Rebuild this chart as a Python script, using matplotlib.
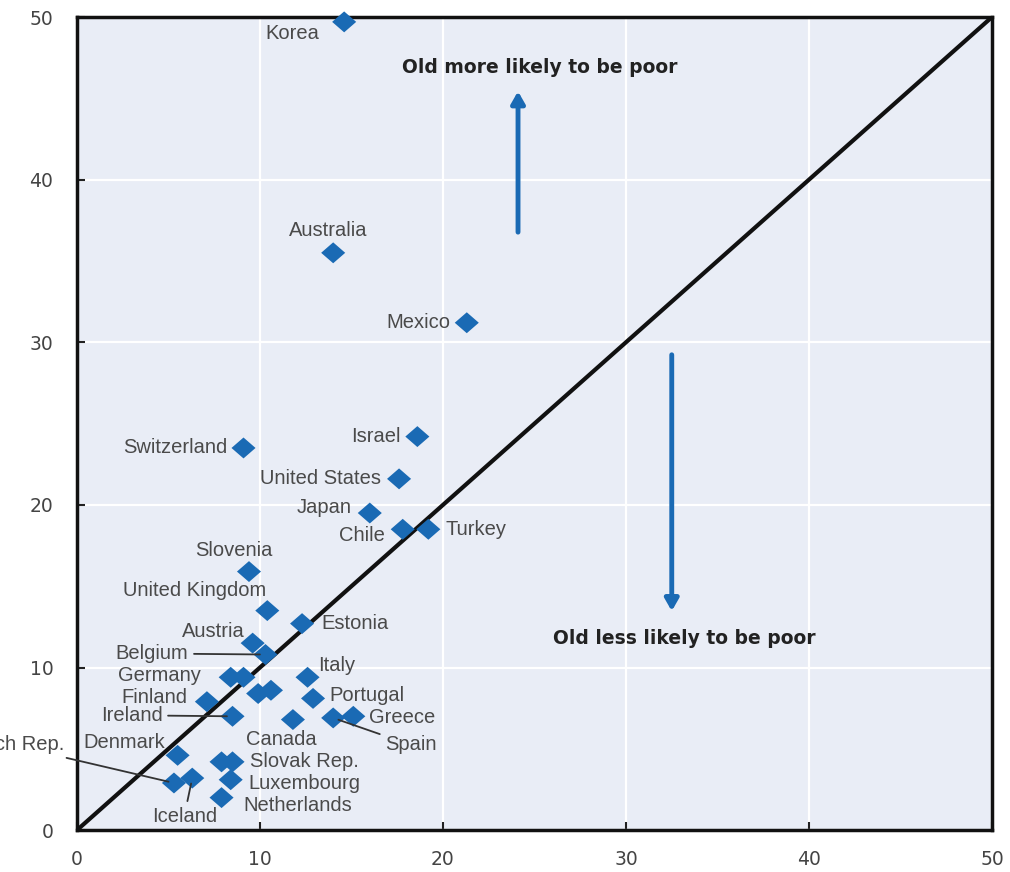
import numpy as np
import matplotlib.pyplot as plt
from matplotlib.path import Path

# income poverty rates: whole population (x) vs over-65s (y), %
countries = ['Korea', 'Australia', 'Mexico', 'Israel', 'Switzerland', 'United States',
             'Japan', 'Chile', 'Turkey', 'Slovenia', 'United Kingdom', 'Estonia',
             'Austria', 'Belgium', 'Germany', 'Italy', 'Finland', 'Portugal',
             'Ireland', 'Canada', 'Greece', 'Spain', 'Denmark', 'Czech Rep.',
             'Iceland', 'Slovak Rep.', 'Luxembourg', 'Netherlands']
pop_rate = [14.6, 14.0, 21.3, 18.6, 9.1, 17.6,
            16.0, 17.8, 19.2, 9.4, 10.4, 12.3,
            9.6, 10.3, 8.4, 12.6, 7.1, 12.9,
            8.5, 11.8, 15.1, 14.0, 5.5, 5.3,
            6.3, 8.5, 8.4, 7.9]
old_rate = [49.7, 35.5, 31.2, 24.2, 23.5, 21.6,
            19.5, 18.5, 18.5, 15.9, 13.5, 12.7,
            11.5, 10.8, 9.4, 9.4, 7.9, 8.1,
            7.0, 6.8, 7.0, 6.9, 4.6, 2.9,
            3.2, 4.2, 3.1, 2.0]
# points drawn without a label
other_pop = [9.1, 9.9, 10.6, 7.9]
other_old = [9.4, 8.4, 8.6, 4.2]

# label placement: offset in pixels, alignment, leader line
label_pos = {
    'Korea': (-25, -12, 'right', False),
    'Australia': (-5, 22, 'center', False),
    'Mexico': (-16, 0, 'right', False),
    'Israel': (-17, 0, 'right', False),
    'Switzerland': (-16, 0, 'right', False),
    'United States': (-18, 0, 'right', False),
    'Japan': (-18, 6, 'right', False),
    'Chile': (-18, -6, 'right', False),
    'Turkey': (17, 0, 'left', False),
    'Slovenia': (-15, 21, 'center', False),
    'United Kingdom': (-73, 20, 'center', False),
    'Estonia': (19, 0, 'left', False),
    'Austria': (-8, 12, 'right', False),
    'Belgium': (-77, 1, 'right', True),
    'Germany': (-30, 2, 'right', False),
    'Italy': (11, 12, 'left', False),
    'Finland': (-20, 4, 'right', False),
    'Portugal': (16, 3, 'left', False),
    'Ireland': (-70, 1, 'right', True),
    'Canada': (-12, -20, 'center', False),
    'Greece': (16, -1, 'left', False),
    'Spain': (52, -27, 'left', True),
    'Denmark': (-12, 13, 'right', False),
    'Czech Rep.': (-110, 38, 'right', True),
    'Iceland': (-8, -38, 'center', True),
    'Slovak Rep.': (17, 0, 'left', False),
    'Luxembourg': (18, -4, 'left', False),
    'Netherlands': (22, -8, 'left', False),
}

blue = '#1a6ab4'
diamond = Path([(-1.15, 0), (0, 1), (1.15, 0), (0, -1), (-1.15, 0)],
               [Path.MOVETO, Path.LINETO, Path.LINETO, Path.LINETO, Path.CLOSEPOLY])

fig = plt.figure(figsize=(10.1, 8.72), dpi=100)
ax = fig.add_axes([0.0762, 0.048, 0.906, 0.9325])
ax.set_facecolor('#e9edf6')
ax.set_xlim(0, 50)
ax.set_ylim(0, 50)

ax.grid(True, color='white', lw=1.6)
ax.set_axisbelow(True)

ax.plot([0, 50], [0, 50], color='#111111', lw=3, zorder=2)

ax.scatter(pop_rate + other_pop, old_rate + other_old, marker=diamond, s=300,
           color=blue, edgecolors='none', zorder=3, clip_on=False)

for name, x, y in zip(countries, pop_rate, old_rate):
    dx, dy, ha, line = label_pos[name]
    arrow = None
    if line:
        arrow = dict(arrowstyle='-', color='#333333', lw=1.3, shrinkA=2, shrinkB=4)
    ax.annotate(name, (x, y), xytext=(dx, dy), textcoords='offset pixels',
                ha=ha, va='center', fontsize=14.5, family='Liberation Sans',
                color='#4a4a4a', arrowprops=arrow, annotation_clip=False, zorder=4)

# direction arrows and captions
ax.annotate('', xy=(24.1, 45.6), xytext=(24.1, 36.6),
            arrowprops=dict(arrowstyle='-|>,head_width=0.4,head_length=0.7',
                            color=blue, lw=3.5))
ax.annotate('', xy=(32.5, 13.3), xytext=(32.5, 29.4),
            arrowprops=dict(arrowstyle='-|>,head_width=0.4,head_length=0.7',
                            color=blue, lw=3.5))
ax.text(25.3, 46.9, 'Old more likely to be poor', ha='center', va='center',
        fontsize=13.5, fontweight='bold', color='#222222')
ax.text(33.2, 11.8, 'Old less likely to be poor', ha='center', va='center',
        fontsize=13.5, fontweight='bold', color='#222222')

ticks = [0, 10, 20, 30, 40, 50]
ax.set_xticks(ticks)
ax.set_yticks(ticks)
ax.tick_params(direction='in', length=6, width=1.5, color='#222222',
               labelsize=13.5, labelcolor='#444444')
ax.tick_params(axis='x', pad=14)
ax.tick_params(axis='y', pad=17)
for s in ax.spines.values():
    s.set_linewidth(2.5)
    s.set_color('#111111')

fig.savefig('out.png', dpi=100)
